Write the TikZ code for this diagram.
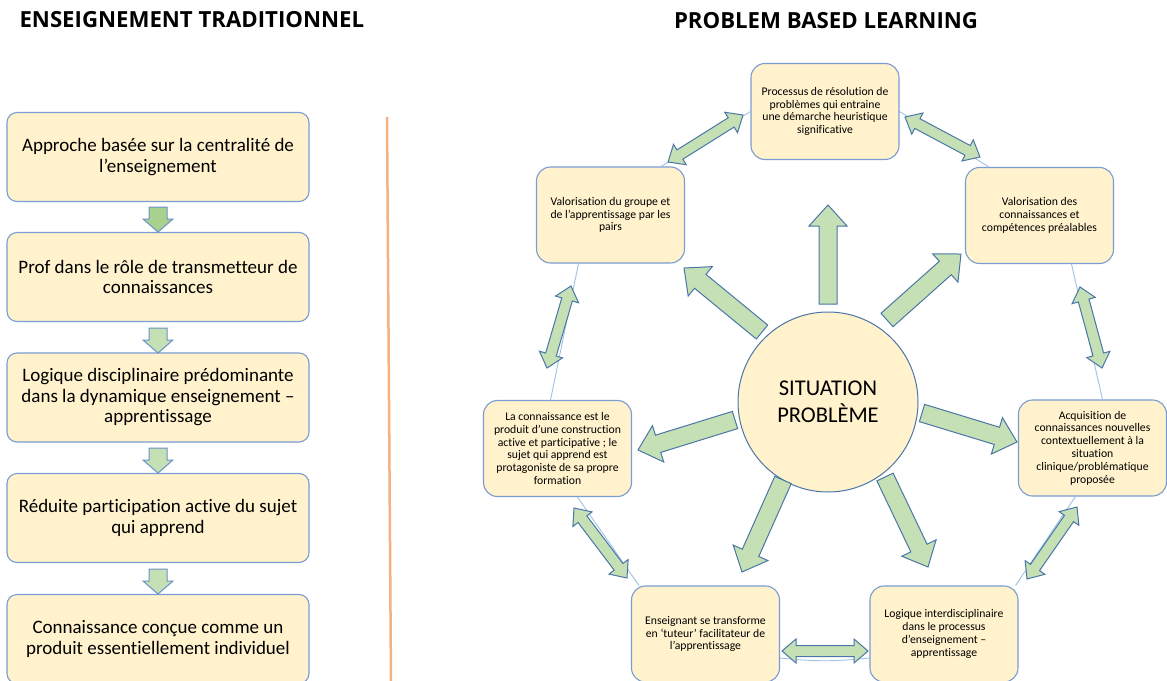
\documentclass[tikz,border=0pt]{standalone}
\usepackage{fontspec}
\setmainfont{Carlito}[Ligatures=NoCommon,RawFeature={-liga;-calt;-clig}]
\newfontfamily\titlefont{Open Sans}
\usetikzlibrary{calc}
\definecolor{boxfill}{HTML}{FFF2CC}
\definecolor{boxline}{HTML}{7A9CD2}
\definecolor{arrfill}{HTML}{C5E0B4}
\definecolor{arrfillD}{HTML}{A9D18E}
\definecolor{arrline}{HTML}{4A76A8}
\definecolor{larrline}{HTML}{6A93C9}
\definecolor{thinblue}{HTML}{9DC3E6}
\definecolor{sepline}{HTML}{F4B183}
\tikzset{
  lbox/.style={draw=boxline, fill=boxfill, rounded corners=10pt, line width=1.1pt,
    minimum width=302pt, minimum height=89pt, align=center, inner sep=0pt,
    font=\fontsize{19}{20.5}\selectfont},
  rbox/.style={draw=boxline, fill=boxfill, rounded corners=14pt, line width=1.1pt,
    minimum width=148pt, minimum height=96pt, align=center, inner sep=0pt,
    font=\fontsize{11.7}{12.8}\selectfont},
  bigarr/.style={draw=arrline, fill=arrfill, line width=1pt, line join=miter},
  dblarr/.style={draw=arrline, fill=arrfill, line width=1pt, line join=miter},
  varr/.style={draw=larrline, fill=arrfill, line width=1pt, line join=miter},
  cycline/.style={draw=thinblue, line width=0.9pt},
  ttl/.style={font=\titlefont\bfseries\fontsize{22.2}{26}\selectfont},
}
% single block arrow from (x1,y1) to tip (x2,y2), pixel coords
\newcommand\pbsarrow[4]{%
  \pgfmathsetmacro\pbang{atan2(#2-#4,#3-#1)}%
  \pgfmathsetmacro\pblen{veclen(#3-#1,#4-#2)}%
  \begin{scope}[shift={(#1,#2)},rotate=\pbang]
    \draw[bigarr] (0,9) -- (\pblen-21,9) -- (\pblen-21,19) -- (\pblen,0)
      -- (\pblen-21,-19) -- (\pblen-21,-9) -- (0,-9) -- cycle;
  \end{scope}}
% double block arrow between (x1,y1) and (x2,y2)
\newcommand\pbdarrow[4]{%
  \pgfmathsetmacro\pbang{atan2(#2-#4,#3-#1)}%
  \pgfmathsetmacro\pblen{veclen(#3-#1,#4-#2)}%
  \begin{scope}[shift={(#1,#2)},rotate=\pbang]
    \draw[dblarr] (0,0) -- (14,12) -- (14,5.5) -- (\pblen-14,5.5) -- (\pblen-14,12)
      -- (\pblen,0) -- (\pblen-14,-12) -- (\pblen-14,-5.5) -- (14,-5.5) -- (14,-12) -- cycle;
  \end{scope}}
% vertical down arrow, top at y
\newcommand\pbvarrow[2]{%
  \draw[varr,fill=#2] (149,#1) -- (167,#1) -- (167,#1+12) -- (173,#1+12) -- (158,#1+25)
    -- (143,#1+12) -- (149,#1+12) -- cycle;}
\begin{document}
\begin{tikzpicture}[x=1pt,y=-1pt]
\useasboundingbox (0,0) rectangle (1167,680);
\clip (0,0) rectangle (1167,680);
\fill[white] (0,0) rectangle (1167,680);

% titles
\node[ttl, anchor=west] (t1) at (16,20) {ENSEIGNEMENT TRADITIONNEL};
\node[ttl] (t2) at (826,21) {PROBLEM BASED LEARNING};

% separator
\draw[sepline, line width=2.5pt] (387,117) -- (391,683);

% left column
\node[lbox] (b1) at (158,157) {Approche basée sur la centralité de\\l’enseignement};
\node[lbox] (b2) at (158,277) {Prof dans le rôle de transmetteur de\\connaissances};
\node[lbox] (b3) at (158,397.5) {Logique disciplinaire prédominante\\dans la dynamique enseignement –\\apprentissage};
\node[lbox] (b4) at (158,518) {Réduite participation active du sujet\\qui apprend};
\node[lbox] (b5) at (158,639) {Connaissance conçue comme un\\produit essentiellement individuel};
\pbvarrow{207}{arrfillD}
\pbvarrow{328}{arrfill}
\pbvarrow{448}{arrfill}
\pbvarrow{569}{arrfill}

% right: boxes
\node[rbox] (top) at (825,111.5) {Processus de résolution de\\problèmes qui entraine\\une démarche heuristique\\significative};
\node[rbox] (grp) at (610.5,215) {Valorisation du groupe et\\de l’apprentissage par les\\pairs};
\node[rbox] (val) at (1039.5,215.5) {Valorisation des\\connaissances et\\compétences préalables};
\node[rbox] (acq) at (1092.5,448) {Acquisition de\\connaissances nouvelles\\contextuellement à la\\situation\\clinique/problématique\\proposée};
\node[rbox] (con) at (557.5,448.5) {La connaissance est le\\produit d’une construction\\active et participative ; le\\sujet qui apprend est\\protagoniste de sa propre\\formation};
\node[rbox] (ens) at (705.5,634) {Enseignant se transforme\\en ‘tuteur’ facilitateur de\\l’apprentissage};
\node[rbox] (log) at (944,634) {Logique interdisciplinaire\\dans le processus\\d’enseignement –\\apprentissage};

% thin cycle lines
\draw[cycline] (top.west) -- ([xshift=-24pt]grp.north east);
\draw[cycline] (top.east) -- ([xshift=24pt]val.north west);
\draw[cycline] ([xshift=32pt]val.south) -- ([xshift=10pt]acq.north);
\draw[cycline] ([xshift=-17pt]acq.south) -- ([xshift=-3pt]log.north east);
\draw[cycline] ([yshift=-24pt]ens.east) to[bend right=6] ([yshift=-24pt]log.west);
\draw[cycline] ([xshift=8pt]ens.north west) -- ([xshift=20pt]con.south);
\draw[cycline] ([xshift=-7pt]con.north) -- ([xshift=-32pt]grp.south);

% circle
\node[circle, draw=arrline, fill=boxfill, line width=1pt, minimum size=180pt, inner sep=0pt,
  align=center, font=\fontsize{22.5}{27}\selectfont] (sp) at (828,402) {SITUATION\\PROBLÈME};

% radiating arrows
\pbsarrow{828}{304}{828}{205}
\pbsarrow{887}{320}{961}{254}
\pbsarrow{762}{332}{684}{268}
\pbsarrow{735}{420}{638}{450}
\pbsarrow{783}{480}{742}{572}
\pbsarrow{885}{477}{928}{567}
\pbsarrow{922}{413}{1017}{442}

% double arrows
\pbdarrow{743}{115}{668}{162}
\pbdarrow{905}{117}{980}{157}
\pbdarrow{1080}{287}{1102}{368}
\pbdarrow{1077}{507}{1027}{579}
\pbdarrow{782}{651}{868}{651}
\pbdarrow{574}{508}{627}{578}
\pbdarrow{571}{286}{547}{368}
\end{tikzpicture}
\end{document}
